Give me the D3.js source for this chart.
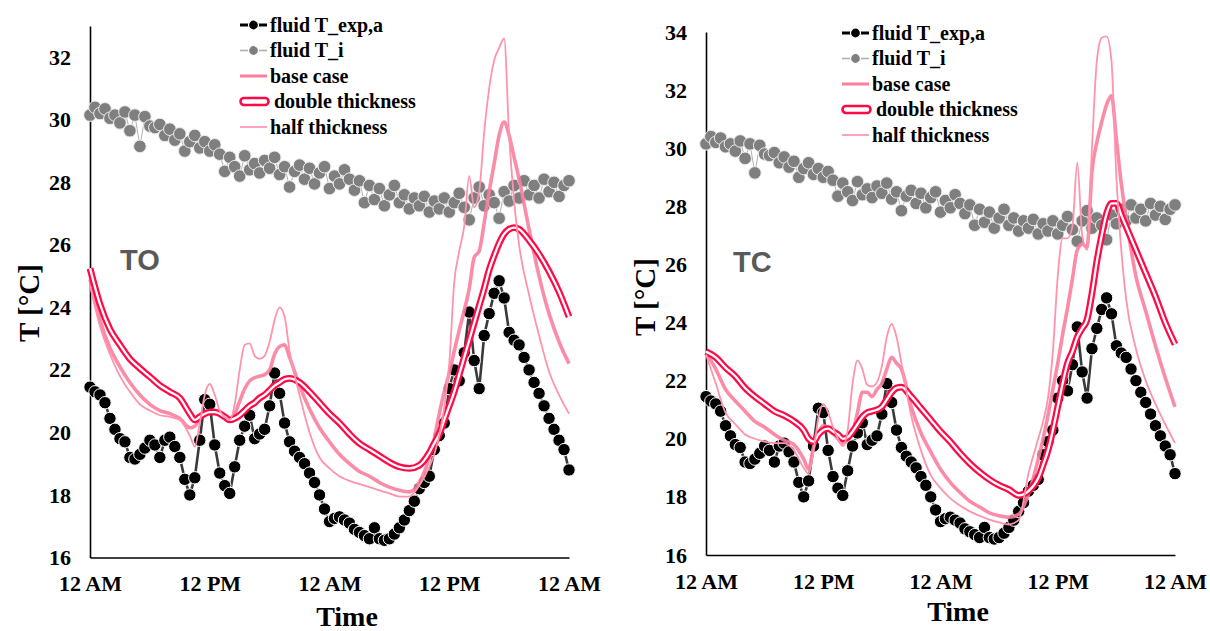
<!DOCTYPE html>
<html><head><meta charset="utf-8">
<script src="https://cdn.jsdelivr.net/npm/d3@7"></script>
<style>body{margin:0;background:#fff}</style>
</head><body><svg id="c" width="1210" height="631"></svg>
<script>
// ---------- DATA ----------
const hoursObs = [0,0.5,1,1.5,2,2.5,3,3.5,4,4.5,5,5.5,6,6.5,7,7.5,8,8.5,9,9.5,10,10.5,11,11.5,12,12.5,13,13.5,14,14.5,15,15.5,16,16.5,17,17.5,18,18.5,19,19.5,20,20.5,21,21.5,22,22.5,23,23.5,24,24.5,25,25.5,26,26.5,27,27.5,28,28.5,29,29.5,30,30.5,31,31.5,32,32.5,33,33.5,34,34.5,35,35.5,36,36.5,37,37.5,38,38.5,39,39.5,40,40.5,41,41.5,42,42.5,43,43.5,44,44.5,45,45.5,46,46.5,47,47.5,48];
const expTemp = [21.45,21.3,21.2,20.95,20.45,20.1,19.8,19.7,19.2,19.15,19.3,19.5,19.75,19.6,19.2,19.75,19.85,19.55,19.2,18.5,18.0,18.55,19.75,21.05,20.9,19.6,18.7,18.3,18.05,18.9,19.75,20.2,20.55,19.8,19.95,20.1,20.85,21.9,21.25,20.3,19.7,19.4,19.2,19.0,18.7,18.4,18.0,17.55,17.15,17.25,17.3,17.2,17.1,16.9,16.8,16.7,16.6,16.95,16.6,16.55,16.6,16.75,16.95,17.2,17.5,17.8,18.2,18.4,18.6,19.45,19.9,20.3,21.4,22.0,21.65,22.55,23.85,22.3,21.4,23.1,23.8,24.45,24.85,24.3,23.2,22.95,22.8,22.4,22.0,21.6,21.25,20.85,20.45,20.1,19.75,19.45,18.8];
const tiTemp = [30.15,30.4,30.2,30.35,30.05,30.15,29.9,30.25,29.65,30.15,29.15,30.1,29.8,29.75,29.85,29.5,29.7,29.35,29.55,29.0,29.3,29.5,29.1,29.3,29.0,29.2,28.9,28.35,28.8,28.5,28.2,28.85,28.4,28.6,28.3,28.7,28.45,28.8,28.25,28.5,27.85,28.35,28.55,28.1,28.45,27.95,28.3,28.5,27.8,28.2,27.95,28.4,28.1,27.75,28.05,27.35,27.9,27.45,27.8,27.25,27.6,27.9,27.35,27.6,27.15,27.5,27.25,27.55,27.05,27.4,27.15,27.5,27.05,27.35,27.65,27.2,26.8,27.5,27.85,27.25,27.6,27.35,26.85,27.7,27.4,27.9,27.5,28.05,27.6,27.9,27.5,28.1,27.7,28.0,27.55,27.9,28.05];

const hoursModel = [0,1,2,3,4,5,6,7,8,9,10,10.5,11,11.5,12,12.5,13,13.5,14,14.5,15,15.5,16,16.5,17,17.5,18,18.5,19,19.5,20,21,22,23,24,25,26,27,28,29,30,31,32,33,34,34.5,35,35.5,36,36.5,37,37.5,38,38.5,39,39.5,40,40.5,41,41.5,42,42.5,43,44,45,46,47,48];

const toDouble = [25.25,24.1,23.3,22.8,22.35,22.05,21.78,21.5,21.3,21.1,20.6,20.4,20.5,20.6,20.65,20.65,20.6,20.5,20.4,20.45,20.55,20.7,20.85,20.95,21.1,21.2,21.35,21.5,21.6,21.7,21.73,21.6,21.3,20.95,20.6,20.3,19.95,19.65,19.45,19.25,19.05,18.9,18.85,18.95,19.35,19.65,19.95,20.4,20.85,21.3,21.85,22.4,22.95,23.5,24.05,24.6,25.2,25.65,26.05,26.35,26.5,26.55,26.5,26.15,25.7,25.15,24.5,23.7];
const toBase = [24.9,23.6,22.7,22.1,21.6,21.2,20.9,20.7,20.6,20.45,20.15,20.2,20.45,20.6,20.7,20.7,20.6,20.5,20.4,20.6,21.0,21.4,21.65,21.75,21.8,21.85,22.0,22.5,22.75,22.8,22.4,21.5,20.75,20.15,19.7,19.3,19.0,18.75,18.6,18.4,18.25,18.15,18.1,18.4,19.2,19.8,20.6,21.3,21.9,22.6,23.27,23.9,24.6,25.6,25.8,26.7,27.7,28.6,29.5,29.93,29.5,28.8,28.1,26.5,25.0,23.8,22.9,22.2];
const toHalf = [24.7,23.4,22.5,21.8,21.3,20.9,20.7,20.55,20.5,20.4,19.9,19.55,20.3,21.2,21.55,21.2,20.7,20.5,20.4,20.9,22.0,22.8,22.85,22.45,22.35,22.45,22.9,23.6,24.0,23.7,22.6,21.2,20.0,19.2,18.85,18.6,18.45,18.35,18.25,18.15,18.05,17.95,17.95,18.3,18.9,19.3,19.9,20.8,22.2,24.8,25.8,26.6,28.2,27.2,27.7,29.6,31.0,31.9,32.3,32.6,29.5,27.4,26.0,24.4,23.1,21.95,21.2,20.6];

const tcDouble = [23.0,22.8,22.45,22.15,21.75,21.45,21.2,20.95,20.8,20.6,20.3,20.0,19.9,20.15,20.3,20.35,20.25,20.15,20.0,20.05,20.25,20.5,20.75,20.9,20.95,21.0,21.1,21.35,21.6,21.75,21.78,21.45,21.05,20.65,20.25,19.9,19.5,19.15,18.85,18.6,18.4,18.25,18.05,18.2,18.65,19.1,19.6,20.3,21.1,21.9,22.6,23.0,23.5,23.8,24.1,25.0,26.1,27.0,27.75,28.1,28.1,27.7,27.3,26.5,25.7,24.9,24.0,23.25];
const tcBase = [22.95,22.4,21.7,21.3,20.95,20.6,20.4,20.15,19.95,19.8,19.3,18.95,19.7,20.2,20.45,20.4,20.2,20.0,19.85,19.95,20.2,20.9,21.6,21.6,21.45,21.7,21.9,22.4,22.8,22.6,22.4,21.1,20.2,19.55,18.95,18.5,18.15,17.85,17.65,17.45,17.35,17.3,17.4,18.1,19.3,20.0,20.8,21.7,22.6,23.6,24.5,25.5,26.5,26.7,26.6,29.2,30.2,30.9,31.5,31.8,30.3,28.8,27.6,25.6,24.4,23.2,22.1,21.1];
const tcHalf = [22.9,21.9,20.9,20.5,20.15,20.0,19.9,19.85,19.85,19.6,19.0,18.8,19.6,20.7,21.2,20.9,20.4,20.0,19.75,20.3,21.9,22.7,22.4,21.85,21.8,21.95,22.5,23.5,23.95,23.5,22.6,20.8,19.6,18.75,18.3,17.95,17.7,17.5,17.35,17.22,17.12,17.05,17.2,18.8,20.0,20.6,21.4,23.0,25.6,26.9,26.9,27.3,29.5,27.0,26.5,30.0,33.0,33.8,33.85,33.0,29.0,26.5,24.8,23.1,22.0,21.2,20.5,19.85];

const xTickHours = [0,12,24,36,48];
const xTickLabels = ["12 AM","12 PM","12 AM","12 PM","12 AM"];
const toYTicks = [16,18,20,22,24,26,28,30,32];
const tcYTicks = [16,18,20,22,24,26,28,30,32,34];
const legendLabels = ["fluid T_exp,a","fluid T_i","base case","double thickness","half thickness"];
const panelNames = ["TO","TC"];

// ---------- STYLE ----------
const serif = "'Liberation Serif','Times New Roman',serif";
const cExp = "#000000", cExpLine = "#3a3a3a", cTi = "#7f7f7f", cTiLine = "#b0b0b0";
const cBase = "#fb7f9d", cDouble = "#ff0a47", cHalf = "#ff93ad";

const panels = [
  {name:panelNames[0], base:toBase, dbl:toDouble, half:toHalf, yMax:33, yTicks:toYTicks,
   x0:90, x1:569, yTop:26, yBot:557.5, leg:{x:240,y:25}, lab:{x:120,y:270}, xt:{x:347,y:626}, yt:{x:29,y:303}},
  {name:panelNames[1], base:tcBase, dbl:tcDouble, half:tcHalf, yMax:34, yTicks:tcYTicks,
   x0:706, x1:1175, yTop:32, yBot:555, leg:{x:842,y:33}, lab:{x:733,y:272}, xt:{x:958,y:621}, yt:{x:645,y:297}}
];

const svg = d3.select("#c");

panels.forEach(p => {
  const x = d3.scaleLinear().domain([0,48]).range([p.x0, p.x1]);
  const y = d3.scaleLinear().domain([16, p.yMax]).range([p.yBot, p.yTop]);
  const g = svg.append("g");

  const yAxis = g.append("g").attr("transform", `translate(${p.x0},0)`)
    .call(d3.axisLeft(y).tickValues(p.yTicks).tickSize(0).tickPadding(19).tickFormat(d3.format("d")));
  const xAxis = g.append("g").attr("transform", `translate(0,${p.yBot})`)
    .call(d3.axisBottom(x).tickValues(xTickHours).tickSize(0).tickPadding(18).tickFormat((d,i)=>xTickLabels[i]));
  [yAxis, xAxis].forEach(a => {
    a.select(".domain").attr("stroke","#000").attr("stroke-width",1.6);
    a.selectAll("text").attr("font-family", serif).attr("font-weight","bold").attr("font-size",22).attr("fill","#000");
  });

  g.append("text").attr("x", p.xt.x).attr("y", p.xt.y).attr("text-anchor","middle")
    .attr("font-family", serif).attr("font-weight","bold").attr("font-size",28).text("Time");
  g.append("text").attr("transform", `translate(${p.yt.x},${p.yt.y}) rotate(-90)`).attr("text-anchor","middle")
    .attr("dy","0.35em").attr("font-family", serif).attr("font-weight","bold").attr("font-size",29).text("T [°C]");

  g.append("text").attr("x", p.lab.x).attr("y", p.lab.y).attr("font-family","'Liberation Sans',Arial,sans-serif")
    .attr("font-weight","bold").attr("font-size",29).attr("fill","#595959").text(p.name);

  const obs = hoursObs.map((h,i)=>({h, e:expTemp[i], t:tiTemp[i]}));
  const lineObs = key => d3.line().x(d=>x(d.h)).y(d=>y(d[key]));

  g.append("path").datum(obs).attr("d", lineObs("t")).attr("fill","none").attr("stroke",cTiLine).attr("stroke-width",1);
  g.append("g").selectAll("circle").data(obs).join("circle")
    .attr("cx", d=>x(d.h)).attr("cy", d=>y(d.t)).attr("r",6.3)
    .attr("fill",cTi).attr("stroke","#eeeeee").attr("stroke-width",1);

  g.append("path").datum(obs).attr("d", lineObs("e")).attr("fill","none").attr("stroke",cExpLine).attr("stroke-width",2.6);
  g.append("g").selectAll("circle").data(obs).join("circle")
    .attr("cx", d=>x(d.h)).attr("cy", d=>y(d.e)).attr("r",6.2)
    .attr("fill",cExp).attr("stroke","#fff").attr("stroke-width",1);

  const mline = arr => d3.line().curve(d3.curveMonotoneX).x((d,i)=>x(hoursModel[i])).y(d=>y(d))(arr);
  g.append("path").attr("d", mline(p.base)).attr("fill","none").attr("stroke",cBase).attr("stroke-width",3.6).attr("stroke-opacity",0.9);
  g.append("path").attr("d", mline(p.dbl)).attr("fill","none").attr("stroke",cDouble).attr("stroke-width",6.8);
  g.append("path").attr("d", mline(p.dbl)).attr("fill","none").attr("stroke","#fff").attr("stroke-width",2.3);
  g.append("path").attr("d", mline(p.half)).attr("fill","none").attr("stroke",cHalf).attr("stroke-width",1.8);

  const lg = g.append("g").attr("transform", `translate(${p.leg.x},${p.leg.y})`);
  const rowH = 25.5;
  legendLabels.forEach((lab,i) => {
    const ry = i*rowH;
    if (i===0 || i===1) {
      lg.append("line").attr("x1",0).attr("x2",27).attr("y1",ry).attr("y2",ry)
        .attr("stroke", i===0?cExp:cTiLine).attr("stroke-width", i===0?3:1.6);
      lg.append("circle").attr("cx",13.5).attr("cy",ry).attr("r",5)
        .attr("fill", i===0?cExp:cTi).attr("stroke","#fff").attr("stroke-width",1.2);
    } else if (i===2) {
      lg.append("line").attr("x1",0).attr("x2",27).attr("y1",ry).attr("y2",ry).attr("stroke",cBase).attr("stroke-width",3);
    } else if (i===3) {
      lg.append("rect").attr("x",0.5).attr("y",ry-3.5).attr("width",28).attr("height",7).attr("rx",3.5)
        .attr("fill","#fff").attr("stroke",cDouble).attr("stroke-width",2.6);
    } else {
      lg.append("line").attr("x1",0).attr("x2",27).attr("y1",ry).attr("y2",ry).attr("stroke",cHalf).attr("stroke-width",1.7);
    }
    lg.append("text").attr("x", i===3?34:30).attr("y", ry).attr("dy","0.33em")
      .attr("font-family", serif).attr("font-weight","bold").attr("font-size",20).attr("fill","#000").text(lab);
  });
});
</script></body></html>
